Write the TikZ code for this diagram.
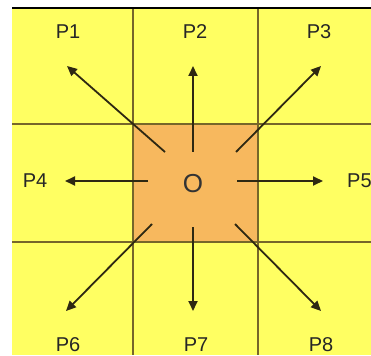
\documentclass[tikz,border=0pt]{standalone}
\usepackage{fontspec}
\setmainfont{Liberation Sans}
\usetikzlibrary{arrows.meta}
\definecolor{cellyellow}{HTML}{FFFF62}
\definecolor{cellorange}{HTML}{F7B85E}
\definecolor{gridline}{HTML}{76662A}
\definecolor{arrowcol}{HTML}{2E2812}
\tikzset{
  gridstyle/.style={draw=gridline, line width=2pt},
  ptr/.style={draw=arrowcol, line width=1.8pt, -{Triangle[length=10pt,width=9pt]}},
  lbl/.style={font=\fontsize{20}{20}\selectfont, text=black!85, inner sep=0pt},
}
\begin{document}
\begin{tikzpicture}[x=1pt,y=-1pt]
\useasboundingbox (0,0) rectangle (371,355);
\clip (0,0) rectangle (371,355);
\fill[white] (0,0) rectangle (371,355);
\fill[cellyellow] (12,8) rectangle (371,355);
\fill[cellorange] (133,124) rectangle (258,242);
\draw[black, line width=2.5pt] (12,8) -- (371,8);
\draw[gridstyle] (133,9) -- (133,355);
\draw[gridstyle] (258,9) -- (258,355);
\draw[gridstyle] (12,124) -- (371,124);
\draw[gridstyle] (12,242) -- (371,242);
% labels
\node[lbl] (p1) at (68,32) {P1};
\node[lbl] (p2) at (195,32) {P2};
\node[lbl] (p3) at (319,32) {P3};
\node[lbl] (p4) at (35,181) {P4};
\node[lbl, anchor=west] (p5) at (347,181) {P5};
\node[lbl] (p6) at (68,345) {P6};
\node[lbl] (p7) at (196,345) {P7};
\node[lbl] (p8) at (321,345) {P8};
\node[font=\fontsize{26}{26}\selectfont, text=black!80, inner sep=0pt] (o) at (193,184) {O};
% arrow coordinates
\coordinate (s1) at (165,152); \coordinate (e1) at (67,66);
\coordinate (s2) at (193,152); \coordinate (e2) at (193,66);
\coordinate (s3) at (236,152); \coordinate (e3) at (321,66);
\coordinate (s4) at (148,181); \coordinate (e4) at (65,181);
\coordinate (s5) at (237,181); \coordinate (e5) at (323,181);
\coordinate (s6) at (152,224); \coordinate (e6) at (66,311);
\coordinate (s7) at (193,227); \coordinate (e7) at (193,311);
\coordinate (s8) at (235,224); \coordinate (e8) at (321,311);
\foreach \i in {1,...,8} {\draw[ptr] (s\i) -- (e\i);}
\end{tikzpicture}
\end{document}
